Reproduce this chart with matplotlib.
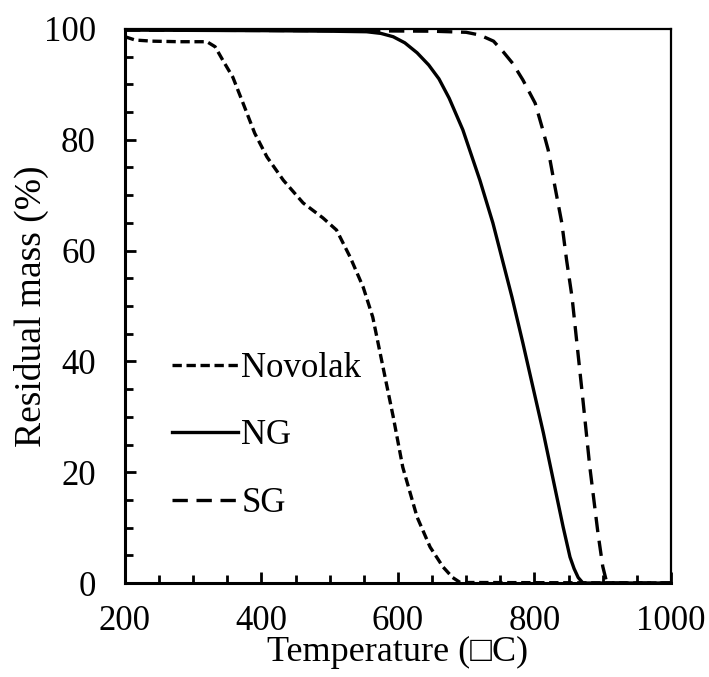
import matplotlib
matplotlib.use("Agg")
import matplotlib.pyplot as plt
from matplotlib.ticker import MultipleLocator

plt.rcParams['font.family'] = ['Liberation Serif', 'DejaVu Serif']
plt.rcParams['font.size'] = 25

# Novolak (short dash)
novolak_t = [200, 215, 240, 280, 320, 332, 345, 358, 373, 390, 408, 432, 461, 490, 510,
             530, 549, 563, 578, 593, 607, 628, 647, 666, 680, 691, 1000]
novolak_m = [98.6, 98.0, 97.8, 97.7, 97.7, 96.8, 94.0, 91.3, 86.6, 81.2, 76.9, 72.7, 68.6, 65.9, 63.7,
             58.8, 53.4, 48.0, 39.0, 30.0, 20.9, 11.9, 6.5, 2.9, 1.0, 0.1, 0]

# NG (solid)
ng_t = [200, 400, 500, 554, 575, 593, 610, 628, 645, 660, 675, 695, 720, 739, 767,
        783, 813, 842, 852, 858, 864, 871, 1000]
ng_m = [99.8, 99.7, 99.6, 99.5, 99.2, 98.6, 97.5, 95.7, 93.5, 91.0, 87.5, 81.8, 72.7, 65.0, 51.6,
        43.3, 27.1, 10.1, 4.7, 2.6, 1.0, 0, 0]

# SG (long dash)
sg_t = [200, 500, 650, 700, 720, 740, 754, 768, 783, 801, 811, 820, 830, 840, 847,
        855, 871, 881, 893, 900, 906, 1000]
sg_m = [99.8, 99.7, 99.6, 99.4, 98.9, 97.8, 95.9, 93.8, 90.8, 86.6, 82.3, 78.2, 71.5, 65.0, 58.3,
        51.6, 33.0, 21.0, 9.0, 3.0, 0, 0]

fig = plt.figure(figsize=(7.09, 6.77), dpi=100)
ax = fig.add_axes([0.1763, 0.1388, 0.7701, 0.8184])

ax.plot(novolak_t, novolak_m, color='black', lw=2.4, dashes=(2.8, 1.4), label='Novolak')
ax.plot(ng_t, ng_m, color='black', lw=2.4, label='NG')
ax.plot(sg_t, sg_m, color='black', lw=2.4, dashes=(4.6, 2.6), label='SG')

ax.set_xlim(200, 1000)
ax.set_ylim(0, 100)
ax.xaxis.set_major_locator(MultipleLocator(200))
ax.xaxis.set_minor_locator(MultipleLocator(50))
ax.yaxis.set_major_locator(MultipleLocator(20))
ax.yaxis.set_minor_locator(MultipleLocator(5))

ax.tick_params(which='both', direction='in', top=False, right=False, width=2)
ax.tick_params(which='major', length=8)
ax.tick_params(which='minor', length=6)
ax.tick_params(axis='x', which='major', pad=16)
ax.tick_params(axis='y', which='major', pad=21)

for s in ['left', 'bottom']:
    ax.spines[s].set_linewidth(2.2)
for s in ['top', 'right']:
    ax.spines[s].set_linewidth(1.6)

ax.set_xlabel('Temperature (\u25a1C)', fontsize=26, labelpad=-2)
ax.set_ylabel('Residual mass (%)', fontsize=27, labelpad=-4)

ax.legend(loc='center left', bbox_to_anchor=(0.086, 0.2654), frameon=False,
          borderpad=0, borderaxespad=0, handlelength=1.9, handletextpad=0.1,
          labelspacing=1.0)

fig.savefig('out.png', dpi=100)
